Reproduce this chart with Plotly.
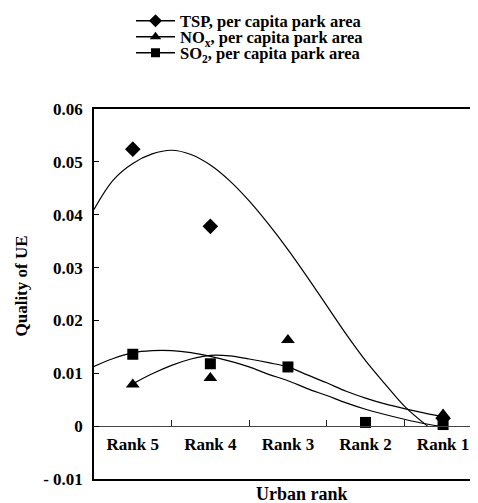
import plotly.graph_objects as go

# ---- data ----
categories = ["Rank 5", "Rank 4", "Rank 3", "Rank 2", "Rank 1"]
tsp_values = [0.0524, 0.0378, None, None, 0.0015]
nox_values = [0.0079, 0.0091, 0.0163, None, 0.0022]
so2_values = [0.0136, 0.0118, 0.0112, 0.0007, 0.0003]

# trend curves (position on category scale, Rank 5 = 0)
tsp_trend_x = [-0.5, -0.25, 0, 0.25, 0.5, 0.75, 1.0, 1.25, 1.5, 1.75, 2.0, 2.25, 2.5, 2.75, 3.0, 3.25, 3.5, 3.8]
tsp_trend_y = [0.0410, 0.0466, 0.0497, 0.0515, 0.0522, 0.0514, 0.0494, 0.0464, 0.0426, 0.0382, 0.0334,
               0.0282, 0.0228, 0.0174, 0.0124, 0.0080, 0.0038, 0.0000]
nox_trend_x = [0, 0.25, 0.5, 0.75, 1.0, 1.25, 1.5, 1.75, 2.0, 2.25, 2.5, 2.75, 3.0, 3.25, 3.5, 3.75, 3.96]
nox_trend_y = [0.0080, 0.0099, 0.0115, 0.0127, 0.0134, 0.0133, 0.0127, 0.0120, 0.0112, 0.0097, 0.0082,
               0.0066, 0.0053, 0.0042, 0.0033, 0.0025, 0.0019]
so2_trend_x = [-0.5, -0.25, 0, 0.25, 0.5, 0.75, 1.0, 1.25, 1.5, 1.75, 2.0, 2.25, 2.5, 2.75, 3.0, 3.25, 3.5, 3.75, 3.96]
so2_trend_y = [0.0113, 0.0128, 0.0139, 0.0143, 0.0143, 0.0139, 0.0132, 0.0123, 0.0112, 0.0098, 0.0086,
               0.0071, 0.0058, 0.0044, 0.0032, 0.0022, 0.0013, 0.0005, 0.0000]

series_names = ["TSP, per capita park area", "NO<sub>x</sub>, per capita park area",
                "SO<sub>2</sub>, per capita park area"]
y_tick_vals = [-0.01, 0, 0.01, 0.02, 0.03, 0.04, 0.05, 0.06]
y_tick_text = ["- 0.01", "0", "0.01", "0.02", "0.03", "0.04", "0.05", "0.06"]

FONT = "Liberation Serif"
BLACK = "black"

fig = go.Figure()

symbols = ["diamond", "triangle-up", "square"]
sizes = [12, 12, 11]
values = [tsp_values, nox_values, so2_values]
trends = [(tsp_trend_x, tsp_trend_y), (nox_trend_x, nox_trend_y), (so2_trend_x, so2_trend_y)]
legends = ["legend", "legend2", "legend3"]

for name, vals, sym, sz, (tx, ty), lg in zip(series_names, values, symbols, sizes, trends, legends):
    fig.add_trace(go.Scatter(x=tx, y=ty, mode="lines", xaxis="x2", yaxis="y",
                             line=dict(color=BLACK, width=1.2, shape="spline", smoothing=1),
                             showlegend=False, hoverinfo="skip"))
    fig.add_trace(go.Scatter(x=categories, y=vals, mode="markers", xaxis="x", yaxis="y",
                             marker=dict(symbol=sym, size=sz, color=BLACK),
                             showlegend=False))
    # legend entry (line + marker symbol)
    fig.add_trace(go.Scatter(x=[None], y=[None], mode="lines+markers", name=name,
                             xaxis="x", yaxis="y", legend=lg,
                             line=dict(color=BLACK, width=1.5),
                             marker=dict(symbol=sym, size=sz - 2, color=BLACK)))

# the page has an 8px body margin: figure coordinates are page coordinates minus 8
OFF = 8
W = 478 - OFF
H = 503 - OFF
legend_rows = [21, 37, 53]
for lg, row in zip(legends, legend_rows):
    fig.layout[lg] = dict(xref="container", yref="container", x=(131 - OFF) / W, y=1 - (row - OFF) / H,
                          xanchor="left", yanchor="middle", bgcolor="rgba(0,0,0,0)", itemwidth=39,
                          font=dict(family=FONT, size=16.5, color=BLACK, weight="bold"), borderwidth=0)

ML, MT, MB = 94 - OFF, 109 - OFF, 24
plot_w = W - ML
plot_h = H - MT - MB
plot_bottom = H - MB


def px_to_paper_x(px):
    return (px - OFF - ML) / plot_w


def px_to_paper_y(py):
    return (plot_bottom - (py - OFF)) / plot_h


fig.update_layout(
    width=W, height=H,
    margin=dict(l=ML, r=0, t=MT, b=MB, autoexpand=False),
    paper_bgcolor="white", plot_bgcolor="white",
    font=dict(family=FONT, size=17, color=BLACK),
    xaxis=dict(type="category", categoryorder="array", categoryarray=categories,
               range=[-0.5, 4.45], anchor="free", position=1 / 7, automargin=False,
               showline=True, linecolor="#444", linewidth=1, tickangle=0,
               tickson="boundaries", ticks="inside", ticklen=6, tickcolor="#222", tickwidth=1,
               ticklabelstandoff=2, showgrid=False, zeroline=False,
               tickfont=dict(family=FONT, size=17, color=BLACK, weight="bold")),
    xaxis2=dict(type="linear", overlaying="x", anchor="y", range=[-0.5, 4.45], automargin=False,
                showline=True, mirror=True, linecolor=BLACK, linewidth=1.5,
                showticklabels=False, ticks="", showgrid=False, zeroline=False),
    yaxis=dict(range=[-0.01, 0.06], tickvals=y_tick_vals, ticktext=y_tick_text, automargin=False,
               ticks="inside", ticklen=5, tickcolor=BLACK, showline=True, linecolor=BLACK,
               linewidth=1.5, showgrid=False, zeroline=False, ticklabelstandoff=6,
               tickfont=dict(family=FONT, size=17, color=BLACK, weight="bold")),
    annotations=[
        dict(text="Quality of UE", xref="paper", yref="paper", x=px_to_paper_x(20.5), y=px_to_paper_y(286),
             xanchor="center", yanchor="middle", textangle=-90, showarrow=False,
             font=dict(family=FONT, size=17, color=BLACK, weight="bold")),
        dict(text="Urban rank", xref="paper", yref="paper", x=px_to_paper_x(302), y=px_to_paper_y(494),
             xanchor="center", yanchor="middle", showarrow=False,
             font=dict(family=FONT, size=18, color=BLACK, weight="bold")),
    ],
)

fig.write_html("out.html")
